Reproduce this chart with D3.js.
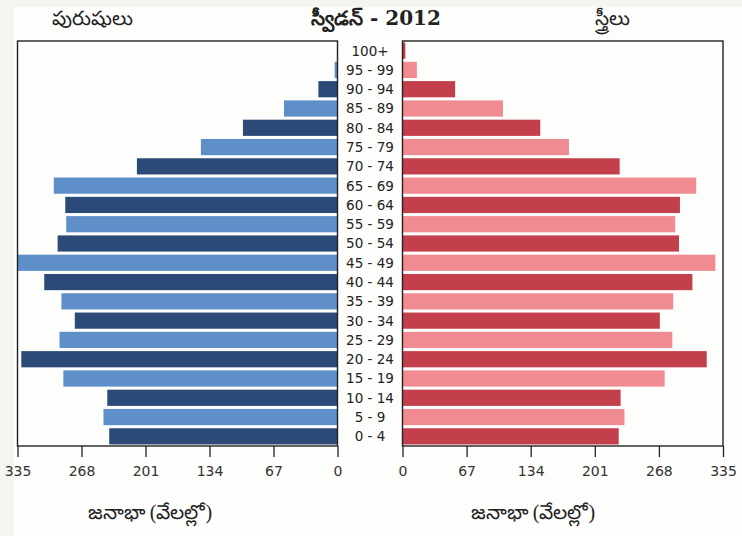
<!DOCTYPE html>
<html>
<head>
<meta charset="utf-8">
<script src="https://cdn.jsdelivr.net/npm/d3@7"></script>
<style>
  body { margin: 0; background: #f3f6ee; }
  svg { display: block; }
</style>
</head>
<body>
<div id="plot"></div>
<script>
// Data (thousands)
var ages = ["0 - 4", "5 - 9", "10 - 14", "15 - 19", "20 - 24", "25 - 29", "30 - 34",
            "35 - 39", "40 - 44", "45 - 49", "50 - 54", "55 - 59", "60 - 64", "65 - 69",
            "70 - 74", "75 - 79", "80 - 84", "85 - 89", "90 - 94", "95 - 99", "100+"];
var males   = [239, 245, 241, 287, 331, 291, 275, 289, 307, 335, 293, 284, 285, 297, 210, 143, 99, 56, 20, 3, 0.5];
var females = [226, 232, 228, 274, 318, 282, 269, 283, 303, 327, 289, 285, 290, 307, 227, 174, 144, 105, 55, 15, 3];
var ticks = [0, 67, 134, 201, 268, 335];

var W = 742, H = 536;
var plotTop = 41, plotBottom = 446;
var leftPanel = {x0: 17.5, x1: 337.5}, rightPanel = {x0: 402.5, x1: 723};

var svg = d3.select("#plot").append("svg")
    .attr("width", W).attr("height", H);

// page background
svg.append("rect").attr("x", 14).attr("y", 7).attr("width", W - 14).attr("height", H - 7)
    .attr("fill", "#fdfdfc");

var y = d3.scaleBand().domain(ages).range([plotBottom, plotTop]).paddingInner(0.16).paddingOuter(0.08);

var xl = d3.scaleLinear().domain([0, 335]).range([leftPanel.x1, leftPanel.x0]);
var xr = d3.scaleLinear().domain([0, 335]).range([rightPanel.x0, rightPanel.x1]);

var maleCol = ["#2b4a78", "#5e8fc8"];
var femCol = ["#c33f4c", "#f08b92"];

// male bars
svg.append("g").selectAll("rect").data(males).enter().append("rect")
    .attr("x", function(d) { return xl(d); })
    .attr("y", function(d, i) { return y(ages[i]); })
    .attr("width", function(d) { return xl(0) - xl(d); })
    .attr("height", y.bandwidth())
    .attr("fill", function(d, i) { return maleCol[i % 2]; });

// female bars
svg.append("g").selectAll("rect").data(females).enter().append("rect")
    .attr("x", xr(0))
    .attr("y", function(d, i) { return y(ages[i]); })
    .attr("width", function(d) { return xr(d) - xr(0); })
    .attr("height", y.bandwidth())
    .attr("fill", function(d, i) { return femCol[i % 2]; });

// frames
[leftPanel, rightPanel].forEach(function(p) {
    svg.append("rect")
        .attr("x", p.x0).attr("y", plotTop)
        .attr("width", p.x1 - p.x0).attr("height", plotBottom - plotTop)
        .attr("fill", "none").attr("stroke", "#222").attr("stroke-width", 1.4);
});

// age labels
svg.append("g").selectAll("text").data(ages).enter().append("text")
    .attr("x", 370)
    .attr("y", function(d) { return y(d) + y.bandwidth() / 2; })
    .attr("dy", "0.36em")
    .attr("text-anchor", "middle")
    .style("font-family", "DejaVu Sans")
    .style("font-size", "13.5px")
    .attr("fill", "#222")
    .text(function(d) { return d; });

// axes
function styleAxis(g) {
    g.select(".domain").remove();
    g.selectAll(".tick line").attr("stroke", "#222").attr("stroke-width", 1.3);
    g.selectAll(".tick text")
        .style("font-family", "DejaVu Sans")
        .style("font-size", "14px")
        .attr("fill", "#333")
        .attr("y", 20);
}
svg.append("g").attr("transform", "translate(0," + plotBottom + ")")
    .call(d3.axisBottom(xl).tickValues(ticks).tickSize(11).tickFormat(d3.format("d")))
    .call(styleAxis);
svg.append("g").attr("transform", "translate(0," + plotBottom + ")")
    .call(d3.axisBottom(xr).tickValues(ticks).tickSize(11).tickFormat(d3.format("d")))
    .call(styleAxis);

// axis titles
[[150, "జనాభా (వేలల్లో)"], [533, "జనాభా (వేలల్లో)"]].forEach(function(t) {
    svg.append("text")
        .attr("x", t[0]).attr("y", 519)
        .attr("text-anchor", "middle")
        .style("font-size", "20px")
        .attr("fill", "#222")
        .text(t[1]);
});

// headers
svg.append("text").attr("x", 92).attr("y", 25)
    .attr("text-anchor", "middle")
    .style("font-size", "20px")
    .attr("fill", "#222").text("పురుషులు");
svg.append("text").attr("x", 376).attr("y", 25)
    .attr("text-anchor", "middle")
    .style("font-family", "DejaVu Serif").style("font-size", "20px")
    .style("font-weight", "bold")
    .attr("fill", "#222").text("స్వీడన్ - 2012");
svg.append("text").attr("x", 612).attr("y", 25)
    .attr("text-anchor", "middle")
    .style("font-size", "20px")
    .attr("fill", "#222").text("స్త్రీలు");
</script>
</body>
</html>
